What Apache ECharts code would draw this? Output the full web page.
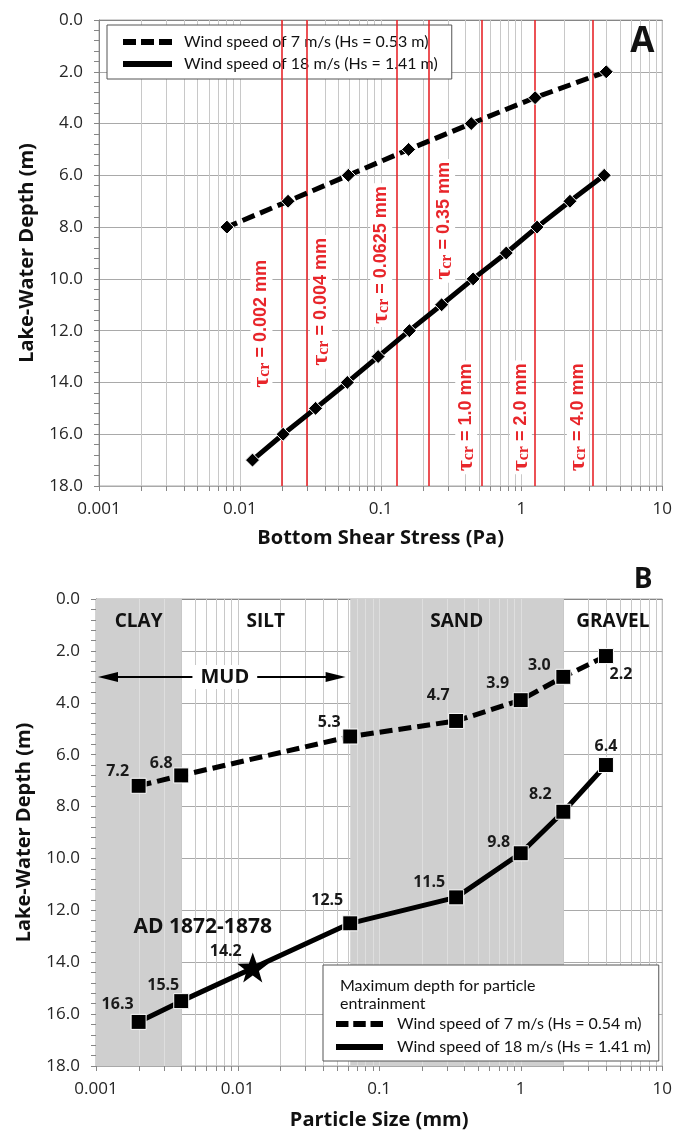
<!DOCTYPE html>
<html>
<head>
<meta charset="utf-8">
<script src="https://cdn.jsdelivr.net/npm/echarts@6/dist/echarts.min.js"></script>
<style>
  html, body { margin: 0; padding: 0; background: #ffffff; }
  #chart { width: 675px; height: 1131px; }
</style>
</head>
<body>
<div id="chart"></div>
<script>
// ---- Panel A: bottom shear stress against lake-water depth ----
const depthCalmA  = [2, 3, 4, 5, 6, 7, 8];
const stressCalmA = [4.0, 1.25, 0.44, 0.158, 0.059, 0.022, 0.0081];
const depthStormA  = [6, 7, 8, 9, 10, 11, 12, 13, 14, 15, 16, 17];
const stressStormA = [3.87, 2.21, 1.29, 0.78, 0.454, 0.271, 0.160, 0.096, 0.058, 0.0345, 0.0203, 0.0123];

// critical shear stress for each grain size (mm)
const grainSizes     = ['0.002', '0.004', '0.0625', '0.35', '1.0', '2.0', '4.0'];
const criticalStress = [0.0182, 0.0272, 0.129, 0.221, 0.518, 1.245, 3.21];

// ---- Panel B: particle size against maximum entrainment depth ----
const particleSize = [0.002, 0.004, 0.0625, 0.35, 1, 2, 4];
const depthCalmB   = [7.2, 6.8, 5.3, 4.7, 3.9, 3.0, 2.2];
const depthStormB  = [16.3, 15.5, 12.5, 11.5, 9.8, 8.2, 6.4];
const eventSize  = 0.0128;
const eventDepth = 14.2;
const eventName  = 'AD 1872-1878';

// sediment classes (Wentworth)
const classNames  = ['CLAY', 'SILT', 'SAND', 'GRAVEL'];
const classBounds = [[0.001, 0.004], [0.004, 0.0625], [0.0625, 2], [2, 10]];
const classShaded = [true, false, true, false];
const mudRange = [0.001, 0.058];
const mudDepth = 3.0;

const nameCalmA  = 'Wind speed of 7 m/s (Hs = 0.53 m)';
const nameCalmB  = 'Wind speed of 7 m/s (Hs = 0.54 m)';
const nameStorm  = 'Wind speed of 18 m/s (Hs = 1.41 m)';
const legendTitleB = 'Maximum depth for particle\nentrainment';

// ---- layout of annotations (pixel offsets / placement) ----
const tauLabelPlace = [
  { dx: -15, depth: 11.74 }, { dx: 20, depth: 10.89 }, { dx: -15, depth: 9.08 },
  { dx: 15, depth: 7.76 }, { dx: -15, depth: 15.35 }, { dx: -14, depth: 15.35 }, { dx: -15, depth: 15.35 }
];
const calmLabelOffset  = [[-21, -14], [-20, -12], [-21, -14], [-18, -26], [-23, -17], [-24, -11], [15, 18]];
const stormLabelOffset = [[-21, -17], [-18, -16], [-23, -23], [-27, -15], [-22, -11], [-23, -17], [0, -19]];
const eventLabelOffset = [-27, -16];

const SANS = '"Open Sans", "DejaVu Sans", sans-serif';
const LEG  = 'Lato, "Open Sans", sans-serif';
const AXIS_GREY = '#868686';

const dashIcon = 'path://M0,0H13V6H0Z M18,0H31V6H18Z M36,0H49V6H36Z';
const starPath = 'path://M0,-50 L11.8,-16.2 L47.6,-15.5 L19,6.2 L29.4,40.5 L0,20 L-29.4,40.5 L-19,6.2 L-47.6,-15.5 L-11.8,-16.2 Z';

function logLabel(v) { return String(+(+v).toPrecision(6)); }

// vertical log grid lines (1..9 per decade) plus the bottom tick marks
function logGridSeries(idx, shadedBands) {
  const vals = [];
  for (let e = -3; e < 1; e++) for (let m = 1; m <= 9; m++) vals.push(+(m * Math.pow(10, e)).toPrecision(6));
  vals.push(10);
  return {
    type: 'custom', xAxisIndex: idx, yAxisIndex: idx, z: 1, silent: true, clip: false,
    data: vals.map(v => [v, 0]),
    renderItem(params, api) {
      const x = api.value(0);
      const top = api.coord([x, 0]);
      const bot = api.coord([x, 18]);
      const px = Math.round(top[0]) + 0.5;
      const shaded = shadedBands.some(b => x > b[0] * 1.0001 && x < b[1] * 0.9999);
      const children = [];
      if (x > 0.0010001 && x < 9.999) {
        children.push({ type: 'line', shape: { x1: px, y1: top[1], x2: px, y2: bot[1] },
          style: { stroke: shaded ? '#dedede' : '#c8c8c8', lineWidth: 1 } });
      }
      children.push({ type: 'line', shape: { x1: px, y1: bot[1], x2: px, y2: bot[1] + 5 },
        style: { stroke: AXIS_GREY, lineWidth: 1 } });
      return { type: 'group', children };
    }
  };
}

function xAxisDef(idx, name, gap) {
  return {
    type: 'log', logBase: 10, gridIndex: idx, min: 0.001, max: 10,
    axisLine: { show: true, lineStyle: { color: AXIS_GREY, width: 1 } },
    axisTick: { show: false },
    splitLine: { show: false },
    axisLabel: { formatter: logLabel, fontFamily: SANS, fontSize: 17, color: '#262626', margin: 15 },
    name, nameLocation: 'middle', nameGap: gap,
    nameTextStyle: { fontFamily: SANS, fontWeight: 'bold', fontSize: 20, color: '#111' }
  };
}
function yAxisDef(idx) {
  return {
    type: 'value', gridIndex: idx, inverse: true, min: 0, max: 18, interval: 2,
    axisLine: { show: true, lineStyle: { color: AXIS_GREY, width: 1 } },
    axisTick: { show: true, length: 5, lineStyle: { color: AXIS_GREY } },
    minorTick: { show: true, splitNumber: 5, length: 5, lineStyle: { color: AXIS_GREY } },
    splitLine: { show: true, lineStyle: { color: '#a9a9a9', width: 1 } },
    axisLabel: { formatter: v => v.toFixed(1), fontFamily: SANS, fontSize: 17, color: '#262626', margin: 16 },
    name: 'Lake-Water Depth (m)', nameLocation: 'middle', nameGap: 62,
    nameTextStyle: { fontFamily: SANS, fontWeight: 'bold', fontSize: 20, color: '#111' }
  };
}

const pointLabel = {
  show: true, position: 'inside', fontFamily: SANS, fontWeight: 'bold', fontSize: 16, color: '#1a1a1a',
  formatter: p => p.value[1].toFixed(1)
};

const chart = echarts.init(document.getElementById('chart'));

const option = {
  backgroundColor: '#ffffff',
  animation: false,
  grid: [
    { left: 99, top: 20, width: 566, height: 466, show: true, borderColor: '#a9a9a9', borderWidth: 1, backgroundColor: 'transparent' },
    { left: 96, top: 599, width: 567, height: 467, show: true, borderColor: '#a9a9a9', borderWidth: 1, backgroundColor: 'transparent' }
  ],
  xAxis: [xAxisDef(0, 'Bottom Shear Stress (Pa)', 42), xAxisDef(1, 'Particle Size (mm)', 44)],
  yAxis: [yAxisDef(0), yAxisDef(1)],
  title: [{
    text: legendTitleB, left: 335, top: 972, z: 12,
    textStyle: { fontFamily: LEG, fontWeight: 'normal', fontSize: 16, lineHeight: 18, color: '#111' }
  }],
  legend: [
    {
      data: [{ name: nameCalmA, icon: dashIcon }, { name: nameStorm, icon: 'rect' }],
      orient: 'vertical', left: 107, top: 25, selectedMode: false,
      backgroundColor: '#ffffff', borderColor: '#555', borderWidth: 1,
      padding: [9, 14, 7, 16], itemGap: 6, itemWidth: 49, itemHeight: 6, symbolKeepAspect: false,
      itemStyle: { color: '#000', borderWidth: 0 },
      textStyle: { fontFamily: LEG, fontSize: 16, lineHeight: 16, color: '#111', padding: [0, 0, 0, 7] }
    },
    {
      data: [{ name: nameCalmB, icon: dashIcon }, { name: nameStorm, icon: 'rect' }],
      orient: 'vertical', left: 323, top: 965, selectedMode: false,
      backgroundColor: '#ffffff', borderColor: '#555', borderWidth: 1,
      padding: [51, 8, 6, 13], itemGap: 7, itemWidth: 47, itemHeight: 6, symbolKeepAspect: false,
      itemStyle: { color: '#000', borderWidth: 0 },
      textStyle: { fontFamily: LEG, fontSize: 16, lineHeight: 16, color: '#111', padding: [0, 0, 0, 9] }
    }
  ],
  series: [
    // ---------- panel A ----------
    logGridSeries(0, []),
    {
      type: 'line', xAxisIndex: 0, yAxisIndex: 0, data: [], z: 2, silent: true,
      markLine: {
        silent: true, symbol: 'none', animation: false,
        lineStyle: { color: '#e8262b', width: 1.6, type: 'solid' },
        label: { show: false },
        data: criticalStress.map(v => ({ xAxis: v }))
      }
    },
    {
      name: nameCalmA, type: 'line', xAxisIndex: 0, yAxisIndex: 0, z: 5,
      data: stressCalmA.map((s, i) => [s, depthCalmA[i]]),
      symbol: 'diamond', symbolSize: 14, showAllSymbol: true,
      itemStyle: { color: '#000', borderColor: '#fff', borderWidth: 1 },
      lineStyle: { color: '#000', width: 5, type: [13, 6] }
    },
    {
      name: nameStorm, type: 'line', xAxisIndex: 0, yAxisIndex: 0, z: 5,
      data: stressStormA.map((s, i) => [s, depthStormA[i]]),
      symbol: 'diamond', symbolSize: 14, showAllSymbol: true,
      itemStyle: { color: '#000', borderColor: '#fff', borderWidth: 1 },
      lineStyle: { color: '#000', width: 5, type: 'solid' }
    },
    // ---------- panel B ----------
    {
      type: 'line', xAxisIndex: 1, yAxisIndex: 1, data: [], z: -1, silent: true,
      markArea: {
        silent: true, animation: false,
        itemStyle: { color: '#cfcfcf' },
        data: classBounds.filter((b, i) => classShaded[i]).map(b => [{ xAxis: b[0], yAxis: 0 }, { xAxis: b[1], yAxis: 18 }])
      }
    },
    logGridSeries(1, classBounds.filter((b, i) => classShaded[i])),
    {
      type: 'line', xAxisIndex: 1, yAxisIndex: 1, data: [], z: 6, silent: true,
      markArea: {
        silent: true, animation: false,
        itemStyle: { color: 'rgba(0,0,0,0)' },
        label: { show: true, position: 'insideTop', distance: 13, fontFamily: SANS, fontWeight: 'bold', fontSize: 19, color: '#111' },
        data: classBounds.map((b, i) => [{ name: classNames[i], xAxis: b[0], yAxis: 0 }, { xAxis: b[1], yAxis: 18 }])
      }
    },
    {
      name: nameCalmB, type: 'line', xAxisIndex: 1, yAxisIndex: 1, z: 5,
      data: particleSize.map((s, i) => ({ value: [s, depthCalmB[i]], label: { offset: calmLabelOffset[i] } })),
      symbol: 'rect', symbolSize: 15, showAllSymbol: true,
      itemStyle: { color: '#000', borderColor: '#fff', borderWidth: 1 },
      lineStyle: { color: '#000', width: 5, type: [13, 6] },
      label: pointLabel
    },
    {
      name: nameStorm, type: 'line', xAxisIndex: 1, yAxisIndex: 1, z: 5,
      data: particleSize.map((s, i) => ({ value: [s, depthStormB[i]], label: { offset: stormLabelOffset[i] } })),
      symbol: 'rect', symbolSize: 15, showAllSymbol: true,
      itemStyle: { color: '#000', borderColor: '#fff', borderWidth: 1 },
      lineStyle: { color: '#000', width: 5, type: 'solid' },
      label: pointLabel
    },
    {
      type: 'scatter', xAxisIndex: 1, yAxisIndex: 1, z: 7,
      data: [{ value: [eventSize, eventDepth], label: { offset: eventLabelOffset } }],
      symbol: starPath, symbolSize: [31, 30],
      itemStyle: { color: '#000', opacity: 1 },
      label: pointLabel
    }
  ]
};

chart.setOption(option);

// ---- annotations positioned from axis coordinates ----
function buildAnnotations() {
  const red = '#e8262b';
  const g = [];
  criticalStress.forEach((s, i) => {
    const place = tauLabelPlace[i];
    const p = chart.convertToPixel({ gridIndex: 0 }, [s, place.depth]);
    g.push({
      type: 'text', x: p[0] + place.dx, y: p[1], rotation: Math.PI / 2, z: 50, silent: true,
      style: {
        text: '{t|τ}{s|cr}{n| = ' + grainSizes[i] + ' mm}',
        align: 'center', verticalAlign: 'middle', fill: red,
        backgroundColor: '#ffffff', padding: [0, 3],
        rich: {
          t: { fontFamily: '"Liberation Serif", "DejaVu Serif", serif', fontWeight: 'bold', fontSize: 24, lineHeight: 22, fill: red },
          s: { fontFamily: '"Liberation Serif", "DejaVu Serif", serif', fontWeight: 'bold', fontSize: 16, lineHeight: 15, verticalAlign: 'bottom', fill: red },
          n: { fontFamily: '"Liberation Sans", Arial, sans-serif', fontWeight: 'bold', fontSize: 18, lineHeight: 22, fill: red }
        }
      }
    });
  });

  // panel letters
  const a = chart.convertToPixel({ gridIndex: 0 }, [10, 0]);
  g.push({ type: 'text', x: a[0] - 20, y: a[1] + 22, z: 50, silent: true,
    style: { text: 'A', align: 'center', verticalAlign: 'middle', fontFamily: SANS, fontWeight: 'bold', fontSize: 35, fill: '#111' } });
  const b = chart.convertToPixel({ gridIndex: 1 }, [10, 0]);
  g.push({ type: 'text', x: b[0] - 19, y: b[1] - 19, z: 50, silent: true,
    style: { text: 'B', align: 'center', verticalAlign: 'middle', fontFamily: SANS, fontWeight: 'bold', fontSize: 28, fill: '#111' } });

  // MUD double arrow
  const m0 = chart.convertToPixel({ gridIndex: 1 }, [mudRange[0], mudDepth]);
  const m1 = chart.convertToPixel({ gridIndex: 1 }, [mudRange[1], mudDepth]);
  const my = Math.round(m0[1]);
  const head = 20, half = 5;
  g.push({ type: 'line', z: 40, silent: true,
    shape: { x1: m0[0] + head - 2, y1: my, x2: m1[0] - head + 2, y2: my }, style: { stroke: '#000', lineWidth: 2.2 } });
  g.push({ type: 'polygon', z: 40, silent: true,
    shape: { points: [[m0[0] + 2, my], [m0[0] + 2 + head, my - half], [m0[0] + 2 + head, my + half]] }, style: { fill: '#000' } });
  g.push({ type: 'polygon', z: 40, silent: true,
    shape: { points: [[m1[0], my], [m1[0] - head, my - half], [m1[0] - head, my + half]] }, style: { fill: '#000' } });
  g.push({ type: 'text', x: (m0[0] + m1[0]) / 2 + 4, y: my, z: 41, silent: true,
    style: { text: 'MUD', align: 'center', verticalAlign: 'middle', fontFamily: SANS, fontWeight: 'bold', fontSize: 20,
      fill: '#111', backgroundColor: '#ffffff', padding: [2, 8] } });

  // event caption above the star
  const e = chart.convertToPixel({ gridIndex: 1 }, [eventSize, eventDepth]);
  g.push({ type: 'text', x: e[0] - 50, y: e[1] - 40, z: 41, silent: true,
    style: { text: eventName, align: 'center', verticalAlign: 'middle', fontFamily: SANS, fontWeight: 'bold', fontSize: 21, fill: '#111' } });

  chart.setOption({ graphic: g });
}
buildAnnotations();
</script>
</body>
</html>
